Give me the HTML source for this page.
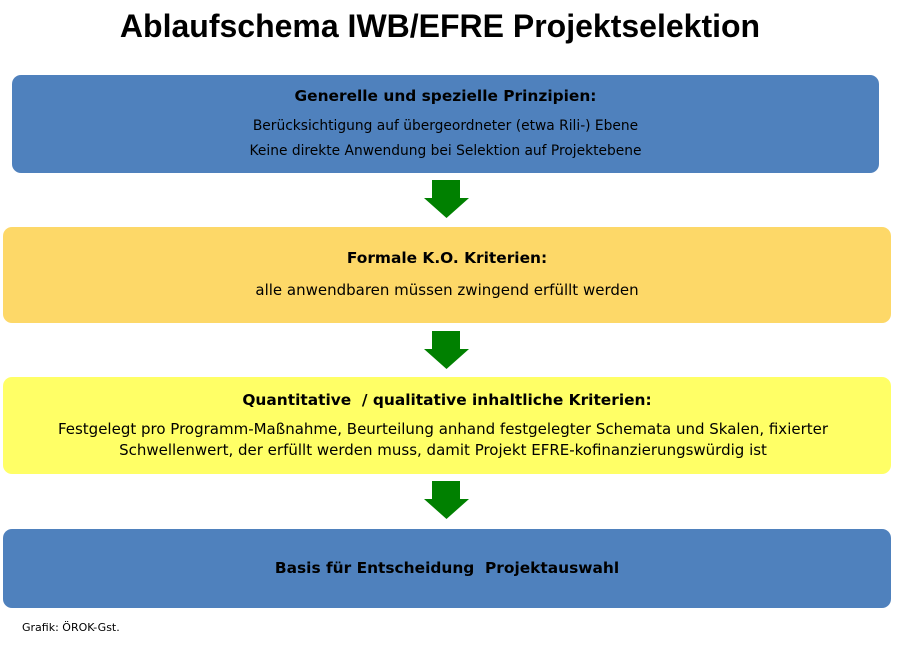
<!DOCTYPE html>
<html><head><meta charset="utf-8"><style>
body{margin:0;width:897px;height:650px;background:#fff;position:relative;overflow:hidden;font-family:"DejaVu Sans","Liberation Sans",sans-serif;color:#000}
.t{position:absolute;left:0;width:880px;top:8px;text-align:center;font:bold 32px "Liberation Sans",sans-serif}
.b{position:absolute;border-radius:9px;text-align:center}
.h{font-weight:bold;font-size:15.4px;position:absolute;width:100%}
.s{font-size:15px;position:absolute;width:100%;line-height:25px}
.a{position:absolute;left:424px;width:45px;height:38px}
</style></head><body>
<div class="t">Ablaufschema IWB/EFRE Projektselektion</div>
<div class="b" style="left:12px;top:75px;width:867px;height:98px;background:#4F81BD">
<div class="h" style="top:12px">Generelle und spezielle Prinzipien:</div>
<div class="s" style="top:39px;font-size:13.8px">Berücksichtigung auf übergeordneter (etwa Rili-) Ebene<br>Keine direkte Anwendung bei Selektion auf Projektebene</div></div>
<svg class="a" style="top:180px" viewBox="0 0 45 38"><polygon points="8,0 36,0 36,18 45,18 22.5,38 0,18 8,18" fill="#008000"/></svg>
<div class="b" style="left:3px;top:227px;width:888px;height:96px;background:#FDD868">
<div class="h" style="top:22px">Formale K.O. Kriterien:</div>
<div class="s" style="top:51px">alle anwendbaren müssen zwingend erfüllt werden</div></div>
<svg class="a" style="top:331px" viewBox="0 0 45 38"><polygon points="8,0 36,0 36,18 45,18 22.5,38 0,18 8,18" fill="#008000"/></svg>
<div class="b" style="left:3px;top:377px;width:888px;height:97px;background:#FFFF66">
<div class="h" style="top:14px">Quantitative &nbsp;/ qualitative inhaltliche Kriterien:</div>
<div class="s" style="top:42px;line-height:21px;font-size:15px;left:-4px">Festgelegt pro Programm-Maßnahme, Beurteilung anhand festgelegter Schemata und Skalen, fixierter<br>Schwellenwert, der erfüllt werden muss, damit Projekt EFRE-kofinanzierungswürdig ist</div></div>
<svg class="a" style="top:481px" viewBox="0 0 45 38"><polygon points="8,0 36,0 36,18 45,18 22.5,38 0,18 8,18" fill="#008000"/></svg>
<div class="b" style="left:3px;top:529px;width:888px;height:79px;background:#4F81BD">
<div class="h" style="top:30px">Basis für Entscheidung &nbsp;Projektauswahl</div></div>
<div style="position:absolute;left:22px;top:621px;font-size:11px">Grafik: ÖROK-Gst.</div>
</body></html>
